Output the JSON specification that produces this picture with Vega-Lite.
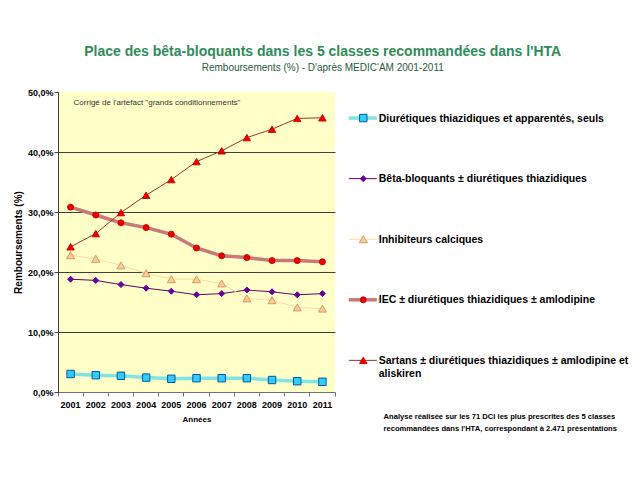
{
  "$schema": "https://vega.github.io/schema/vega-lite/v6.json",
  "padding": {"left": 13, "top": 45, "right": 2, "bottom": 2},
  "background": "white",
  "title": {
    "text": "Place des bêta-bloquants dans les 5 classes recommandées dans l'HTA",
    "subtitle": "Remboursements (%) - D'après MEDIC'AM 2001-2011",
    "anchor": "middle",
    "font": "Liberation Sans",
    "fontSize": 14,
    "fontWeight": "bold",
    "color": "#2E8B57",
    "subtitleFont": "Liberation Sans",
    "subtitleFontSize": 10,
    "subtitleColor": "#1F5A3A",
    "subtitlePadding": 4,
    "offset": 15
  },
  "datasets": {
    "series": [
      {"serie": "Diurétiques thiazidiques et apparentés, seuls", "annee": "2001", "valeur": 3.0},
      {"serie": "Diurétiques thiazidiques et apparentés, seuls", "annee": "2002", "valeur": 2.8},
      {"serie": "Diurétiques thiazidiques et apparentés, seuls", "annee": "2003", "valeur": 2.7},
      {"serie": "Diurétiques thiazidiques et apparentés, seuls", "annee": "2004", "valeur": 2.4},
      {"serie": "Diurétiques thiazidiques et apparentés, seuls", "annee": "2005", "valeur": 2.2},
      {"serie": "Diurétiques thiazidiques et apparentés, seuls", "annee": "2006", "valeur": 2.3},
      {"serie": "Diurétiques thiazidiques et apparentés, seuls", "annee": "2007", "valeur": 2.3},
      {"serie": "Diurétiques thiazidiques et apparentés, seuls", "annee": "2008", "valeur": 2.3},
      {"serie": "Diurétiques thiazidiques et apparentés, seuls", "annee": "2009", "valeur": 2.0},
      {"serie": "Diurétiques thiazidiques et apparentés, seuls", "annee": "2010", "valeur": 1.8},
      {"serie": "Diurétiques thiazidiques et apparentés, seuls", "annee": "2011", "valeur": 1.7},
      {"serie": "Bêta-bloquants ± diurétiques thiazidiques", "annee": "2001", "valeur": 18.8},
      {"serie": "Bêta-bloquants ± diurétiques thiazidiques", "annee": "2002", "valeur": 18.6},
      {"serie": "Bêta-bloquants ± diurétiques thiazidiques", "annee": "2003", "valeur": 17.9},
      {"serie": "Bêta-bloquants ± diurétiques thiazidiques", "annee": "2004", "valeur": 17.3},
      {"serie": "Bêta-bloquants ± diurétiques thiazidiques", "annee": "2005", "valeur": 16.8},
      {"serie": "Bêta-bloquants ± diurétiques thiazidiques", "annee": "2006", "valeur": 16.2},
      {"serie": "Bêta-bloquants ± diurétiques thiazidiques", "annee": "2007", "valeur": 16.4},
      {"serie": "Bêta-bloquants ± diurétiques thiazidiques", "annee": "2008", "valeur": 17.0},
      {"serie": "Bêta-bloquants ± diurétiques thiazidiques", "annee": "2009", "valeur": 16.7},
      {"serie": "Bêta-bloquants ± diurétiques thiazidiques", "annee": "2010", "valeur": 16.2},
      {"serie": "Bêta-bloquants ± diurétiques thiazidiques", "annee": "2011", "valeur": 16.4},
      {"serie": "Inhibiteurs calciques", "annee": "2001", "valeur": 22.8},
      {"serie": "Inhibiteurs calciques", "annee": "2002", "valeur": 22.2},
      {"serie": "Inhibiteurs calciques", "annee": "2003", "valeur": 21.1},
      {"serie": "Inhibiteurs calciques", "annee": "2004", "valeur": 19.8},
      {"serie": "Inhibiteurs calciques", "annee": "2005", "valeur": 18.8},
      {"serie": "Inhibiteurs calciques", "annee": "2006", "valeur": 18.8},
      {"serie": "Inhibiteurs calciques", "annee": "2007", "valeur": 18.1},
      {"serie": "Inhibiteurs calciques", "annee": "2008", "valeur": 15.6},
      {"serie": "Inhibiteurs calciques", "annee": "2009", "valeur": 15.3},
      {"serie": "Inhibiteurs calciques", "annee": "2010", "valeur": 14.1},
      {"serie": "Inhibiteurs calciques", "annee": "2011", "valeur": 13.9},
      {"serie": "IEC ± diurétiques thiazidiques ± amlodipine", "annee": "2001", "valeur": 30.8},
      {"serie": "IEC ± diurétiques thiazidiques ± amlodipine", "annee": "2002", "valeur": 29.5},
      {"serie": "IEC ± diurétiques thiazidiques ± amlodipine", "annee": "2003", "valeur": 28.2},
      {"serie": "IEC ± diurétiques thiazidiques ± amlodipine", "annee": "2004", "valeur": 27.4},
      {"serie": "IEC ± diurétiques thiazidiques ± amlodipine", "annee": "2005", "valeur": 26.3},
      {"serie": "IEC ± diurétiques thiazidiques ± amlodipine", "annee": "2006", "valeur": 24.0},
      {"serie": "IEC ± diurétiques thiazidiques ± amlodipine", "annee": "2007", "valeur": 22.7},
      {"serie": "IEC ± diurétiques thiazidiques ± amlodipine", "annee": "2008", "valeur": 22.4},
      {"serie": "IEC ± diurétiques thiazidiques ± amlodipine", "annee": "2009", "valeur": 21.9},
      {"serie": "IEC ± diurétiques thiazidiques ± amlodipine", "annee": "2010", "valeur": 21.9},
      {"serie": "IEC ± diurétiques thiazidiques ± amlodipine", "annee": "2011", "valeur": 21.7},
      {"serie": "Sartans ± diurétiques thiazidiques ± amlodipine et aliskiren", "annee": "2001", "valeur": 24.2},
      {"serie": "Sartans ± diurétiques thiazidiques ± amlodipine et aliskiren", "annee": "2002", "valeur": 26.4},
      {"serie": "Sartans ± diurétiques thiazidiques ± amlodipine et aliskiren", "annee": "2003", "valeur": 29.9},
      {"serie": "Sartans ± diurétiques thiazidiques ± amlodipine et aliskiren", "annee": "2004", "valeur": 32.8},
      {"serie": "Sartans ± diurétiques thiazidiques ± amlodipine et aliskiren", "annee": "2005", "valeur": 35.4},
      {"serie": "Sartans ± diurétiques thiazidiques ± amlodipine et aliskiren", "annee": "2006", "valeur": 38.4},
      {"serie": "Sartans ± diurétiques thiazidiques ± amlodipine et aliskiren", "annee": "2007", "valeur": 40.2},
      {"serie": "Sartans ± diurétiques thiazidiques ± amlodipine et aliskiren", "annee": "2008", "valeur": 42.4},
      {"serie": "Sartans ± diurétiques thiazidiques ± amlodipine et aliskiren", "annee": "2009", "valeur": 43.8},
      {"serie": "Sartans ± diurétiques thiazidiques ± amlodipine et aliskiren", "annee": "2010", "valeur": 45.6},
      {"serie": "Sartans ± diurétiques thiazidiques ± amlodipine et aliskiren", "annee": "2011", "valeur": 45.7}
    ],
    "legende": [
      {"serie": "Diurétiques thiazidiques et apparentés, seuls", "ordre": 1, "libelle": "Diurétiques thiazidiques et apparentés, seuls"},
      {"serie": "Bêta-bloquants ± diurétiques thiazidiques", "ordre": 2, "libelle": "Bêta-bloquants ± diurétiques thiazidiques"},
      {"serie": "Inhibiteurs calciques", "ordre": 3, "libelle": "Inhibiteurs calciques"},
      {"serie": "IEC ± diurétiques thiazidiques ± amlodipine", "ordre": 4, "libelle": "IEC ± diurétiques thiazidiques ± amlodipine"},
      {"serie": "Sartans ± diurétiques thiazidiques ± amlodipine et aliskiren", "ordre": 5, "libelle": "Sartans ± diurétiques thiazidiques ± amlodipine et\naliskiren"}
    ],
    "note": [
      {"ordre": 6, "texte": "Analyse réalisée sur les 71 DCI les plus prescrites des 5 classes\nrecommandées dans l'HTA, correspondant à 2.471 présentations"}
    ],
    "annotation": [
      {"annee": "2001", "valeur": 48.2, "texte": "Corrigé de l'artefact \"grands conditionnements\""}
    ]
  },
  "spacing": 6,
  "hconcat": [
    {
      "width": 277,
      "height": 300,
      "view": {"fill": "#FFFFC8", "stroke": null},
      "encoding": {
        "x": {
          "field": "annee",
          "type": "ordinal",
          "scale": {"type": "band", "paddingInner": 0, "paddingOuter": 0},
          "axis": {
            "title": "Années",
            "titleFontSize": 8,
            "titleFontWeight": "bold",
            "titlePadding": 6,
            "labelAngle": 0,
            "labelFontSize": 9,
            "labelFontWeight": "bold",
            "labelColor": "black",
            "labelPadding": 4,
            "bandPosition": 1,
            "tickExtra": true,
            "tickSize": 4,
            "tickColor": "#707070",
            "domainColor": "#707070",
            "grid": false
          }
        },
        "y": {
          "field": "valeur",
          "type": "quantitative",
          "scale": {"domain": [0, 50], "nice": false},
          "axis": {
            "title": "Remboursements (%)",
            "titleFontSize": 10,
            "titleFontWeight": "bold",
            "titlePadding": 4,
            "values": [0, 10, 20, 30, 40, 50],
            "labelExpr": "replace(format(datum.value, '.1f'), '.', ',') + '%'",
            "labelFontSize": 9,
            "labelFontWeight": "bold",
            "labelColor": "black",
            "labelPadding": 1,
            "tickSize": 4,
            "tickColor": "#404040",
            "domainColor": "#404040",
            "grid": true,
            "gridColor": "#404040",
            "gridOpacity": {"condition": {"test": "datum.value === 0 || datum.value === 50", "value": 0}, "value": 1}
          }
        }
      },
      "layer": [
        {
          "data": {"name": "series"},
          "mark": {"type": "line", "strokeJoin": "round"},
          "encoding": {
            "color": {
              "field": "serie",
              "type": "nominal",
              "scale": {
                "domain": ["Diurétiques thiazidiques et apparentés, seuls", "Bêta-bloquants ± diurétiques thiazidiques", "Inhibiteurs calciques", "IEC ± diurétiques thiazidiques ± amlodipine", "Sartans ± diurétiques thiazidiques ± amlodipine et aliskiren"],
                "range": ["#80E4E4", "#660066", "#FFD8A8", "#C87878", "#A03030"]
              },
              "legend": null
            },
            "strokeWidth": {
              "field": "serie",
              "type": "nominal",
              "scale": {
                "type": "ordinal",
                "domain": ["Diurétiques thiazidiques et apparentés, seuls", "Bêta-bloquants ± diurétiques thiazidiques", "Inhibiteurs calciques", "IEC ± diurétiques thiazidiques ± amlodipine", "Sartans ± diurétiques thiazidiques ± amlodipine et aliskiren"],
                "range": [3.5, 1, 1, 3.5, 1]
              },
              "legend": null
            }
          }
        },
        {
          "data": {"name": "series"},
          "mark": {"type": "point", "opacity": 1, "strokeWidth": 1},
          "encoding": {
            "fill": {
              "field": "serie",
              "type": "nominal",
              "scale": {
                "domain": ["Diurétiques thiazidiques et apparentés, seuls", "Bêta-bloquants ± diurétiques thiazidiques", "Inhibiteurs calciques", "IEC ± diurétiques thiazidiques ± amlodipine", "Sartans ± diurétiques thiazidiques ± amlodipine et aliskiren"],
                "range": ["#33CCFF", "#660099", "#FFCC99", "#E00000", "#DD0000"]
              },
              "legend": null
            },
            "stroke": {
              "field": "serie",
              "type": "nominal",
              "scale": {
                "domain": ["Diurétiques thiazidiques et apparentés, seuls", "Bêta-bloquants ± diurétiques thiazidiques", "Inhibiteurs calciques", "IEC ± diurétiques thiazidiques ± amlodipine", "Sartans ± diurétiques thiazidiques ± amlodipine et aliskiren"],
                "range": ["#005A9C", "#660099", "#D29A60", "#E00000", "#DD0000"]
              },
              "legend": null
            },
            "shape": {
              "field": "serie",
              "type": "nominal",
              "scale": {
                "domain": ["Diurétiques thiazidiques et apparentés, seuls", "Bêta-bloquants ± diurétiques thiazidiques", "Inhibiteurs calciques", "IEC ± diurétiques thiazidiques ± amlodipine", "Sartans ± diurétiques thiazidiques ± amlodipine et aliskiren"],
                "range": ["square", "diamond", "triangle-up", "circle", "triangle-up"]
              },
              "legend": null
            },
            "size": {
              "field": "serie",
              "type": "nominal",
              "scale": {
                "type": "ordinal",
                "domain": ["Diurétiques thiazidiques et apparentés, seuls", "Bêta-bloquants ± diurétiques thiazidiques", "Inhibiteurs calciques", "IEC ± diurétiques thiazidiques ± amlodipine", "Sartans ± diurétiques thiazidiques ± amlodipine et aliskiren"],
                "range": [55, 36, 65, 36, 55]
              },
              "legend": null
            }
          }
        },
        {
          "data": {"name": "annotation"},
          "mark": {"type": "text", "align": "left", "baseline": "middle", "dx": 3, "fontSize": 8, "color": "#333333"},
          "encoding": {
            "text": {"field": "texte"}
          }
        }
      ]
    },
    {
      "width": 290,
      "height": 355,
      "view": {"stroke": null},
      "encoding": {
        "y": {
          "field": "ordre",
          "type": "ordinal",
          "scale": {"type": "point", "domain": [1, 2, 3, 4, 5, 6], "padding": 0.43},
          "axis": null
        }
      },
      "layer": [
        {
          "data": {"name": "legende"},
          "mark": {"type": "rule"},
          "encoding": {
            "x": {"datum": 7, "type": "quantitative", "scale": {"domain": [0, 290]}, "axis": null},
            "x2": {"datum": 36},
            "color": {
              "field": "serie",
              "type": "nominal",
              "scale": {
                "domain": ["Diurétiques thiazidiques et apparentés, seuls", "Bêta-bloquants ± diurétiques thiazidiques", "Inhibiteurs calciques", "IEC ± diurétiques thiazidiques ± amlodipine", "Sartans ± diurétiques thiazidiques ± amlodipine et aliskiren"],
                "range": ["#80E4E4", "#660066", "#FFD8A8", "#C87878", "#A03030"]
              },
              "legend": null
            },
            "strokeWidth": {
              "field": "serie",
              "type": "nominal",
              "scale": {
                "type": "ordinal",
                "domain": ["Diurétiques thiazidiques et apparentés, seuls", "Bêta-bloquants ± diurétiques thiazidiques", "Inhibiteurs calciques", "IEC ± diurétiques thiazidiques ± amlodipine", "Sartans ± diurétiques thiazidiques ± amlodipine et aliskiren"],
                "range": [2.5, 1, 1, 2.5, 1]
              },
              "legend": null
            }
          }
        },
        {
          "data": {"name": "legende"},
          "mark": {"type": "point", "opacity": 1, "strokeWidth": 1},
          "encoding": {
            "x": {"datum": 22, "type": "quantitative"},
            "fill": {
              "field": "serie",
              "type": "nominal",
              "scale": {
                "domain": ["Diurétiques thiazidiques et apparentés, seuls", "Bêta-bloquants ± diurétiques thiazidiques", "Inhibiteurs calciques", "IEC ± diurétiques thiazidiques ± amlodipine", "Sartans ± diurétiques thiazidiques ± amlodipine et aliskiren"],
                "range": ["#33CCFF", "#660099", "#FFCC99", "#E00000", "#DD0000"]
              },
              "legend": null
            },
            "stroke": {
              "field": "serie",
              "type": "nominal",
              "scale": {
                "domain": ["Diurétiques thiazidiques et apparentés, seuls", "Bêta-bloquants ± diurétiques thiazidiques", "Inhibiteurs calciques", "IEC ± diurétiques thiazidiques ± amlodipine", "Sartans ± diurétiques thiazidiques ± amlodipine et aliskiren"],
                "range": ["#005A9C", "#660099", "#D29A60", "#E00000", "#DD0000"]
              },
              "legend": null
            },
            "shape": {
              "field": "serie",
              "type": "nominal",
              "scale": {
                "domain": ["Diurétiques thiazidiques et apparentés, seuls", "Bêta-bloquants ± diurétiques thiazidiques", "Inhibiteurs calciques", "IEC ± diurétiques thiazidiques ± amlodipine", "Sartans ± diurétiques thiazidiques ± amlodipine et aliskiren"],
                "range": ["square", "diamond", "triangle-up", "circle", "triangle-up"]
              },
              "legend": null
            },
            "size": {
              "field": "serie",
              "type": "nominal",
              "scale": {
                "type": "ordinal",
                "domain": ["Diurétiques thiazidiques et apparentés, seuls", "Bêta-bloquants ± diurétiques thiazidiques", "Inhibiteurs calciques", "IEC ± diurétiques thiazidiques ± amlodipine", "Sartans ± diurétiques thiazidiques ± amlodipine et aliskiren"],
                "range": [45, 28, 50, 28, 40]
              },
              "legend": null
            }
          }
        },
        {
          "data": {"name": "legende"},
          "mark": {"type": "text", "align": "left", "baseline": "alphabetic", "dy": 3.5, "fontSize": 10.5, "fontWeight": "bold", "color": "black", "lineBreak": "\n", "lineHeight": 13},
          "encoding": {
            "x": {"datum": 38, "type": "quantitative"},
            "text": {"field": "libelle"}
          }
        },
        {
          "data": {"name": "note"},
          "mark": {"type": "text", "align": "left", "baseline": "alphabetic", "dy": -2, "fontSize": 7.6, "fontWeight": "bold", "color": "black", "lineBreak": "\n", "lineHeight": 12},
          "encoding": {
            "x": {"datum": 43, "type": "quantitative"},
            "text": {"field": "texte"}
          }
        }
      ]
    }
  ],
  "config": {"font": "Liberation Sans", "view": {"stroke": null}}
}
